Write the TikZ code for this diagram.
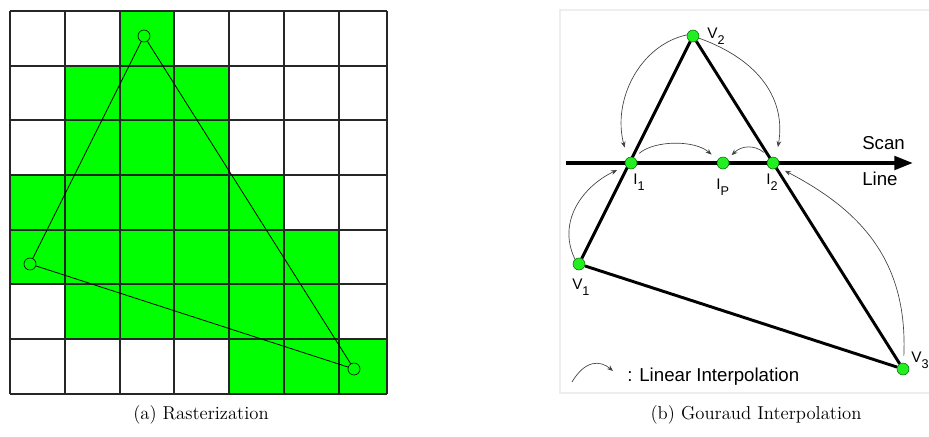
\documentclass[tikz,border=0pt]{standalone}
\usepackage{fontspec}
\newfontfamily\arial{Liberation Sans}
\usepackage{xcolor}
\usepackage{tikz}
\usetikzlibrary{arrows.meta,positioning,calc}

\definecolor{pixgreen}{HTML}{00FF00}
\definecolor{dotgreen}{HTML}{22EE22}
\definecolor{boxgray}{HTML}{EEEEEE}

% lowered subscript, as in the drawing tool the panel comes from
\newcommand{\lsub}[1]{\raisebox{-5pt}{\fontsize{9.5}{10}\selectfont #1}}

\tikzset{
  vtx/.style={circle, draw=black, line width=0.5pt, inner sep=0pt, minimum size=9pt},
  dot/.style={circle, draw=green!40!black, line width=0.4pt, fill=dotgreen, inner sep=0pt, minimum size=9pt},
  edge/.style={line width=2.2pt},
  gridline/.style={line width=1.4pt, black!85},
  interp/.style={draw=black!75, line width=0.5pt, -{Stealth[length=4.5pt,width=3.5pt]}},
  lbl/.style={font=\arial\fontsize{11.5}{13}\selectfont, inner sep=0pt, anchor=base west},
  txt/.style={font=\arial\fontsize{14}{16}\selectfont, inner sep=0pt, anchor=base west},
  captext/.style={font=\fontsize{14}{17}\selectfont}
}

\begin{document}
\begin{tikzpicture}[x=0.75pt, y=-0.75pt]
\useasboundingbox (0,0) rectangle (929,436);
\def\cw{54.7}

% Raster cells
\begin{scope}
\clip (10,11) rectangle (387,394);
\foreach \c/\r in {2/0, 1/1,2/1,3/1, 1/2,2/2,3/2, 0/3,1/3,2/3,3/3,4/3,
                   0/4,1/4,2/4,3/4,4/4,5/4, 1/5,2/5,3/5,4/5,5/5, 4/6,5/6,6/6}
  \fill[pixgreen] (10+\c*\cw, 11+\r*\cw) rectangle ++(\cw, \cw);
\end{scope}

% Grid
\foreach \x in {10,65,120,174,229,284,339,387}
  \draw[gridline] (\x,11) -- (\x,394);
\foreach \y in {11,66,120,175,230,284,339,394}
  \draw[gridline] (10,\y) -- (387,\y);

% Triangle over the pixels
\node[vtx] (pa) at (144,36) {};
\node[vtx] (pb) at (30,264) {};
\node[vtx] (pc) at (354,369) {};
\draw[line width=0.6pt] (pa) -- (pb) -- (pc) -- (pa);

\node[captext] (capa) at (201,415) {(a) Rasterization};

% Gouraud panel
\draw[boxgray, line width=1pt] (560,10) rectangle (940,393);

% Scan line
\coordinate (sl0) at (566,163);
\coordinate (sl1) at (913,163);
\draw[line width=3pt, -{Triangle[length=14pt,width=10pt]}] (sl0) -- (sl1);
\node[txt] (scan) at (862,149) {Scan};
\node[txt] (line) at (862,185) {Line};

% Vertices and intersections
\node[dot] (V2) at (693,36) {};
\node[dot] (V1) at (579,264) {};
\node[dot] (V3) at (903,369) {};
\draw[edge] (V1) -- (V2) -- (V3) -- (V1);
\node[dot] (I1) at (631,163) {};
\node[dot] (I2) at (773,163) {};
\node[dot] (IP) at (723,163) {};

\node[lbl] (lv2) at (707,38) {V\lsub{2}};
\node[lbl] (lv1) at (572,289) {V\lsub{1}};
\node[lbl] (lv3) at (911,362) {V\lsub{3}};
\node[lbl] (li1) at (633,184) {I\lsub{1}};
\node[lbl] (lip) at (716,189) {I\lsub{P}};
\node[lbl] (li2) at (766,184) {I\lsub{2}};

% Interpolation arrows
\draw[interp, shorten >=8pt] (V2.170) .. controls (640,45) and (612,100) .. (I1.125);
\draw[interp, shorten >=8pt] (V2.-20) .. controls (760,60) and (786,100) .. (I2.60);
\draw[interp, shorten <=5pt, shorten >=6pt] (I1.60) .. controls (655,140) and (695,140) .. (IP.150);
\draw[interp, shorten <=6pt, shorten >=4pt] (I2.120) .. controls (755,145) and (742,145) .. (IP.40);
\draw[interp, shorten >=7pt] (V1.130) .. controls (556,220) and (585,185) .. (I1.210);
\draw[interp, shorten <=5pt, shorten >=6pt] (V3.85) .. controls (908,260) and (860,210) .. (I2.-40);

% Legend
\coordinate (lg0) at (572,382);
\coordinate (lg1) at (613,371);
\draw[interp] (lg0) .. controls (585,360) and (600,360) .. (lg1);
\node[txt] (lgt) at (627,381) {: Linear Interpolation};

\node[captext] (capb) at (756,415) {(b) Gouraud Interpolation};
\end{tikzpicture}
\end{document}
